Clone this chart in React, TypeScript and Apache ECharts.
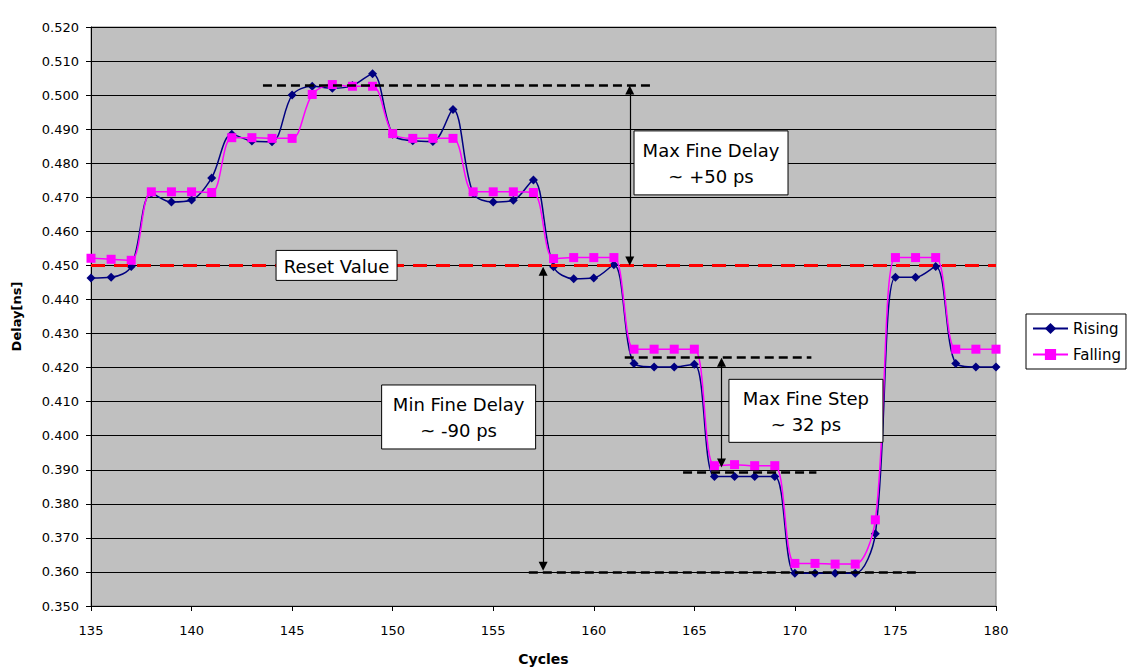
import React, { useEffect, useRef } from "react";
import * as echarts from "echarts";

const cycles = [135,136,137,138,139,140,141,142,143,144,145,146,147,148,149,150,151,152,153,154,155,156,157,158,159,160,161,162,163,164,165,166,167,168,169,170,171,172,173,174,175,176,177,178,179,180];

const rising = [0.4463,0.4465,0.4497,0.4712,0.4686,0.4692,0.4757,0.4885,0.4865,0.4863,0.5000,0.5026,0.5020,0.5028,0.5063,0.4885,0.4866,0.4864,0.4958,0.4712,0.4686,0.4691,0.4751,0.4496,0.4461,0.4463,0.4502,0.4212,0.4202,0.4202,0.4210,0.3880,0.3880,0.3880,0.3880,0.3596,0.3596,0.3596,0.3596,0.3712,0.4465,0.4465,0.4497,0.4212,0.4202,0.4202];

const falling = [0.4521,0.4518,0.4515,0.4716,0.4716,0.4716,0.4714,0.4875,0.4875,0.4873,0.4873,0.5002,0.5031,0.5026,0.5026,0.4887,0.4873,0.4873,0.4873,0.4716,0.4716,0.4716,0.4714,0.4520,0.4523,0.4523,0.4523,0.4254,0.4254,0.4254,0.4254,0.3912,0.3915,0.3912,0.3912,0.3625,0.3625,0.3623,0.3623,0.3753,0.4523,0.4523,0.4523,0.4254,0.4254,0.4254];

const seriesNames = ["Rising", "Falling"];

// reference lines: [x1, x2, y]
const resetLine = [135, 180, 0.45];
const blackDashed = [
  [143.55, 162.93, 0.5028],
  [161.54, 170.82, 0.4229],
  [164.44, 171.07, 0.3892],
  [156.77, 176.1, 0.3599],
];
// arrows: [x, yTop, yBottom]
const arrows = [
  [161.79, 0.5028, 0.45],
  [157.48, 0.4496, 0.3604],
  [166.35, 0.4229, 0.3907],
];
// annotation boxes: [text, x, y, w, h]
const boxes: [string, number, number, number, number][] = [
  ["Reset Value", 147.21, 0.4500, 121, 30],
  ["Max Fine Delay\n~ +50 ps", 165.83, 0.4801, 154, 64],
  ["Min Fine Delay\n~ -90 ps", 153.28, 0.4055, 154, 64],
  ["Max Fine Step\n~ 32 ps", 170.55, 0.4073, 154, 63],
];

const FONT = "'DejaVu Sans', sans-serif";

export default function App() {
  const ref = useRef<HTMLDivElement>(null);
  useEffect(() => {
    if (!ref.current) return;
    const chart = echarts.init(ref.current, null, { renderer: "svg" });
    const tipInset = 0.0013;
    const markData: any[] = [];
    markData.push([
      { coord: [resetLine[0], resetLine[2]], lineStyle: { color: "#FF0000", width: 3, type: [14, 9] }, symbol: "none" },
      { coord: [resetLine[1], resetLine[2]], symbol: "none" },
    ]);
    blackDashed.forEach((d) => {
      markData.push([
        { coord: [d[0], d[2]], lineStyle: { color: "#000", width: 2.6, type: [9, 5] }, symbol: "none" },
        { coord: [d[1], d[2]], symbol: "none" },
      ]);
    });
    arrows.forEach((a) => {
      markData.push([
        { coord: [a[0], a[1] - tipInset], lineStyle: { color: "#000", width: 1.2, type: "solid" }, symbol: "triangle" },
        { coord: [a[0], a[2] + tipInset], symbol: "triangle" },
      ]);
    });

    chart.setOption({
      animation: false,
      backgroundColor: "#FFFFFF",
      textStyle: { fontFamily: FONT },
      grid: {
        left: 91, right: 134, top: 27, bottom: 64,
        show: true, backgroundColor: "#C0C0C0", borderColor: "#808080", borderWidth: 1,
      },
      legend: {
        data: seriesNames,
        orient: "vertical",
        left: 1026, top: 314,
        backgroundColor: "#FFFFFF", borderColor: "#000", borderWidth: 1, borderRadius: 0,
        padding: [7, 5, 7, 6],
        itemGap: 11, itemWidth: 35, itemHeight: 14,
        textStyle: { fontFamily: FONT, fontSize: 15, color: "#000" },
      },
      xAxis: {
        type: "value", min: 135, max: 180, interval: 5,
        name: "Cycles", nameLocation: "middle", nameGap: 46,
        nameTextStyle: { fontFamily: FONT, fontSize: 14, fontWeight: "bold", color: "#000" },
        axisLine: { show: true, lineStyle: { color: "#000", width: 1 } },
        axisTick: { show: true, length: 5, lineStyle: { color: "#000" } },
        axisLabel: { fontFamily: FONT, fontSize: 13, color: "#000", margin: 18 },
        splitLine: { show: false },
      },
      yAxis: {
        type: "value", min: 0.35, max: 0.52, interval: 0.01,
        name: "Delay[ns]", nameLocation: "middle", nameGap: 68, nameRotate: 90,
        nameTextStyle: { fontFamily: FONT, fontSize: 13, fontWeight: "bold", color: "#000" },
        axisLine: { show: true, lineStyle: { color: "#000", width: 1 } },
        axisTick: { show: true, length: 5, lineStyle: { color: "#000" } },
        axisLabel: { fontFamily: FONT, fontSize: 13, color: "#000", margin: 12, formatter: (v: number) => v.toFixed(3) },
        splitLine: { show: true, lineStyle: { color: "#000", width: 1 } },
      },
      series: [
        {
          name: seriesNames[0], type: "line", smooth: 0.33,
          data: cycles.map((c, i) => [c, rising[i]]),
          symbol: "diamond", symbolSize: 9,
          lineStyle: { color: "#000080", width: 1.5 },
          itemStyle: { color: "#000080" },
          z: 2,
          markLine: {
            silent: true, animation: false, symbolSize: 9,
            label: { show: false }, emphasis: { disabled: true },
            data: markData,
          },
        },
        {
          name: seriesNames[1], type: "line", smooth: 0.33,
          data: cycles.map((c, i) => [c, falling[i]]),
          symbol: "rect", symbolSize: 9,
          lineStyle: { color: "#FF00FF", width: 1.5 },
          itemStyle: { color: "#FF00FF" },
          z: 3,
        },
      ],
    });

    const graphics = boxes.map(([text, x, y, w, h]) => {
      const p = chart.convertToPixel({ gridIndex: 0 }, [x, y]) as number[];
      return {
        type: "group", x: p[0], y: p[1], z: 100, zlevel: 0,
        children: [
          { type: "rect", z: 100, shape: { x: -w / 2, y: -h / 2, width: w, height: h }, style: { fill: "#FFFFFF", stroke: "#000", lineWidth: 1 } },
          { type: "text", z: 101, x: 0, y: 1, style: { text, fill: "#000", font: `18px ${FONT}`, align: "center", verticalAlign: "middle", textAlign: "center", textVerticalAlign: "middle", lineHeight: 26 } },
        ],
      };
    });
    chart.setOption({ graphic: graphics });

    return () => chart.dispose();
  }, []);
  return <div ref={ref} style={{ position: "fixed", left: 0, top: 0, width: 1130, height: 671 }} />;
}
